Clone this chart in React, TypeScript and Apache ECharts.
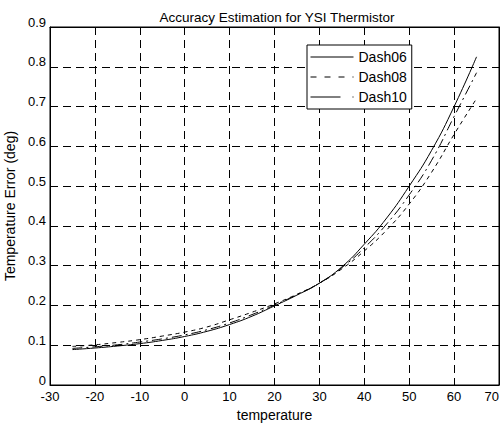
import React, { useEffect, useRef } from "react";
import * as echarts from "echarts";

const temps = [-25, -20, -15, -10, -5, 0, 5, 10, 15, 20, 25, 30, 35, 40, 45, 50, 55, 60, 65];
const dash06 = [0.089, 0.093, 0.098, 0.104, 0.112, 0.122, 0.135, 0.152, 0.173, 0.199, 0.226, 0.256, 0.297, 0.354, 0.42, 0.5, 0.59, 0.7, 0.825];
const dash08 = [0.097, 0.101, 0.107, 0.114, 0.123, 0.133, 0.146, 0.164, 0.183, 0.204, 0.228, 0.256, 0.292, 0.337, 0.39, 0.455, 0.535, 0.63, 0.72];
const dash10 = [0.092, 0.096, 0.101, 0.108, 0.116, 0.126, 0.139, 0.156, 0.177, 0.201, 0.227, 0.256, 0.295, 0.345, 0.405, 0.478, 0.565, 0.675, 0.785];
const seriesNames = ["Dash06", "Dash08", "Dash10"];

const FONT = "Liberation Sans, Arial, sans-serif";

export default function App() {
  const ref = useRef<HTMLDivElement>(null);
  useEffect(() => {
    if (!ref.current) return;
    const chart = echarts.init(ref.current, null, { renderer: "svg" });
    const mk = (vals: number[]) => temps.map((t, i) => [t, vals[i]]);
    const tickStyle = { inside: true, length: 5, lineStyle: { color: "#000" } };
    const split = { show: true, lineStyle: { color: "#000", type: [8, 5] as any, width: 1 } };
    chart.setOption({
      animation: false,
      backgroundColor: "#fff",
      textStyle: { fontFamily: FONT },
      title: {
        text: "Accuracy Estimation for YSI Thermistor",
        left: 272,
        textAlign: "center",
        top: 5,
        textStyle: { fontFamily: FONT, fontSize: 13.5, fontWeight: "normal", color: "#000" },
      },
      grid: {
        left: 50,
        right: 5,
        top: 27,
        bottom: 38,
        show: true,
        borderColor: "#000",
        borderWidth: 1,
        containLabel: false,
        outerBoundsMode: "none",
      },
      legend: {
        left: 307,
        top: 45,
        orient: "vertical",
        itemWidth: 43,
        itemHeight: 14,
        itemGap: 6,
        padding: [5, 5, 5, 3],
        borderColor: "#000",
        borderWidth: 1,
        borderRadius: 0,
        backgroundColor: "#fff",
        itemStyle: { color: "rgba(0,0,0,0)", borderWidth: 0, opacity: 0 },
        lineStyle: { width: 1 },
        textStyle: { fontFamily: FONT, fontSize: 14, color: "#000" },
        data: [
          { name: seriesNames[0], lineStyle: { type: "solid", width: 1 } },
          { name: seriesNames[1], lineStyle: { type: [6, 8], width: 1 } },
          { name: seriesNames[2], lineStyle: { type: [30, 12, 3, 12], width: 1 } },
        ],
      },
      xAxis: [
        {
          type: "value",
          min: -30,
          max: 70,
          interval: 10,
          name: "temperature",
          nameLocation: "middle",
          nameGap: 22,
          nameTextStyle: { fontFamily: FONT, fontSize: 14, color: "#000" },
          axisLine: { show: true, onZero: false, lineStyle: { color: "#000" } },
          axisTick: tickStyle,
          axisLabel: { color: "#000", fontSize: 13, fontFamily: FONT, margin: 5, alignMaxLabel: "right" },
          splitLine: split,
        },
        {
          type: "value",
          position: "top",
          min: -30,
          max: 70,
          interval: 10,
          axisLine: { show: true, onZero: false, lineStyle: { color: "#000" } },
          axisTick: tickStyle,
          axisLabel: { show: false },
          splitLine: { show: false },
        },
      ],
      yAxis: [
        {
          type: "value",
          min: 0,
          max: 0.9,
          interval: 0.1,
          name: "Temperature Error (deg)",
          nameLocation: "middle",
          nameGap: 32,
          nameTextStyle: { fontFamily: FONT, fontSize: 14, color: "#000" },
          axisLine: { show: true, onZero: false, lineStyle: { color: "#000" } },
          axisTick: tickStyle,
          axisLabel: {
            color: "#000",
            fontSize: 13,
            lineHeight: 10,
            verticalAlign: "bottom",
            fontFamily: FONT,
            margin: 4,
            formatter: (v: number) => (v === 0 ? "0" : v.toFixed(1)),
          },
          splitLine: split,
        },
        {
          type: "value",
          position: "right",
          min: 0,
          max: 0.9,
          interval: 0.1,
          axisLine: { show: true, onZero: false, lineStyle: { color: "#000" } },
          axisTick: tickStyle,
          axisLabel: { show: false },
          splitLine: { show: false },
        },
      ],
      series: [
        {
          name: "Dash06",
          type: "line",
          data: mk(dash06),
          smooth: true,
          symbol: "none",
          lineStyle: { color: "#000", width: 1, type: "solid" },
          itemStyle: { color: "#000" },
        },
        {
          name: "Dash08",
          type: "line",
          data: mk(dash08),
          smooth: true,
          symbol: "none",
          lineStyle: { color: "#000", width: 1, type: [4, 4] },
          itemStyle: { color: "#000" },
        },
        {
          name: "Dash10",
          type: "line",
          data: mk(dash10),
          smooth: true,
          symbol: "none",
          lineStyle: { color: "#000", width: 1, type: [10, 4, 2, 4] },
          itemStyle: { color: "#000" },
        },
      ],
    });
    return () => chart.dispose();
  }, []);
  return <div ref={ref} style={{ width: 504, height: 423, position: "absolute", left: 0, top: 0 }} />;
}
